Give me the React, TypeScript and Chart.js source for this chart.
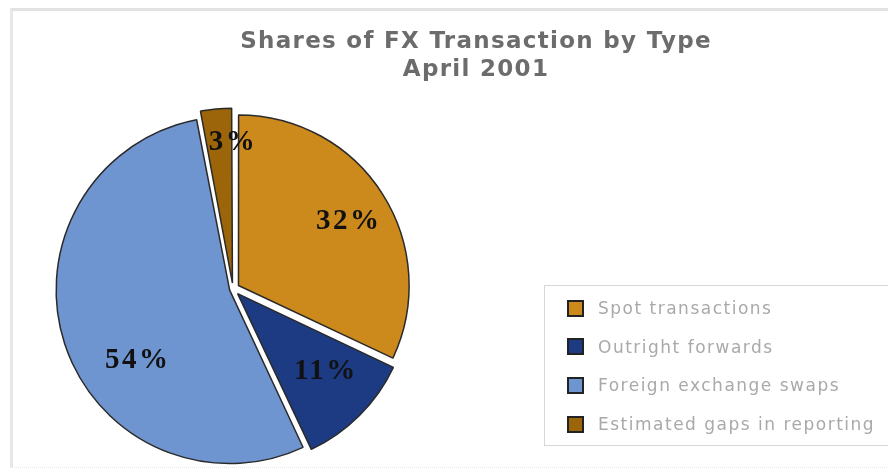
import React, { useEffect, useRef } from "react";
import { Chart, registerables } from "chart.js";

Chart.register(...registerables);

const categories = [
  "Spot transactions",
  "Outright forwards",
  "Foreign exchange swaps",
  "Estimated gaps in reporting",
];
const shares = [32, 11, 54, 3];
const valueLabels = ["32%", "11%", "54%", "3%"];
const colors = ["#CD8A1C", "#1D3B83", "#6F95D0", "#9C6509"];
const titleLines = ["Shares of FX Transaction by Type", "April 2001"];

// label placement tweaks: [radius fraction, angle shift (rad)]
const labelPlace = [
  [0.79, 0.035],
  [0.73, -0.06],
  [0.7, -0.33],
  [0.86, 0.094],
];

const sliceLabels = {
  id: "sliceLabels",
  afterDatasetsDraw(chart: any) {
    const ctx = chart.ctx;
    const meta = chart.getDatasetMeta(0);
    ctx.save();
    ctx.font = "bold 29px 'Liberation Serif', 'Times New Roman', serif";
    (ctx as any).letterSpacing = "2.5px";
    ctx.fillStyle = "#111";
    ctx.textAlign = "center";
    ctx.textBaseline = "middle";
    meta.data.forEach((arc: any, i: number) => {
      const { x, y, startAngle, endAngle, outerRadius } = arc.getProps(
        ["x", "y", "startAngle", "endAngle", "outerRadius"],
        true
      );
      const mid = (startAngle + endAngle) / 2 + labelPlace[i][1];
      const r = outerRadius * labelPlace[i][0];
      ctx.fillText(valueLabels[i], x + Math.cos(mid) * r, y + Math.sin(mid) * r);
    });
    ctx.restore();
  },
};

export default function App() {
  const ref = useRef<HTMLCanvasElement>(null);
  useEffect(() => {
    const chart = new Chart(ref.current!, {
      type: "pie",
      data: {
        labels: categories,
        datasets: [
          {
            data: shares,
            backgroundColor: colors,
            borderColor: "#2a2a2a",
            borderWidth: 1.5,
            offset: [26, 26, 14, 24],
            hoverOffset: 26,
          },
        ],
      },
      options: {
        responsive: false,
        animation: false,
        radius: 170,
        layout: { padding: { left: 55, top: 112, right: 477, bottom: 2 } },
        plugins: {
          legend: { display: false },
          title: { display: false },
          tooltip: { enabled: false },
        },
      },
      plugins: [sliceLabels],
    });
    return () => chart.destroy();
  }, []);

  return (
    <div
      style={{
        position: "fixed",
        left: 0,
        top: 0,
        width: 888,
        height: 468,
        background: "#fff",
        overflow: "hidden",
      }}
    >
      <div
        style={{
          position: "absolute",
          left: 10,
          top: 8,
          width: 900,
          height: 456,
          borderTop: "3px solid #e2e2e2",
          borderLeft: "3px solid #e8e8e8",
          borderBottom: "1px dotted #e6e6e6",
        }}
      />
      <canvas ref={ref} width={888} height={468} style={{ position: "absolute", left: 0, top: 0 }} />
      <div
        style={{
          position: "absolute",
          left: 0,
          width: 952,
          top: 26,
          textAlign: "center",
          fontFamily: "'DejaVu Sans', Verdana, sans-serif",
          fontWeight: "bold",
          fontSize: 23,
          letterSpacing: "1.3px",
          lineHeight: "28px",
          color: "#6c6c6c",
        }}
      >
        {titleLines.map((t) => (
          <div key={t}>{t}</div>
        ))}
      </div>
      <div
        style={{
          position: "absolute",
          left: 544,
          top: 285,
          width: 360,
          height: 161,
          border: "1px solid #d6d6d6",
          boxSizing: "border-box",
        }}
      >
        {categories.map((c, i) => (
          <div
            key={c}
            style={{
              position: "absolute",
              left: 22,
              top: 11 + i * 38.7,
              height: 22,
              display: "flex",
              alignItems: "center",
              whiteSpace: "nowrap",
            }}
          >
            <span
              style={{
                display: "inline-block",
                width: 13,
                height: 13,
                background: colors[i],
                border: "2px solid #222",
                marginRight: 14,
              }}
            />
            <span
              style={{
                fontFamily: "'DejaVu Sans', Verdana, sans-serif",
                fontSize: 17,
                letterSpacing: "1.5px",
                color: "#a9a9a9",
              }}
            >
              {c}
            </span>
          </div>
        ))}
      </div>
    </div>
  );
}
